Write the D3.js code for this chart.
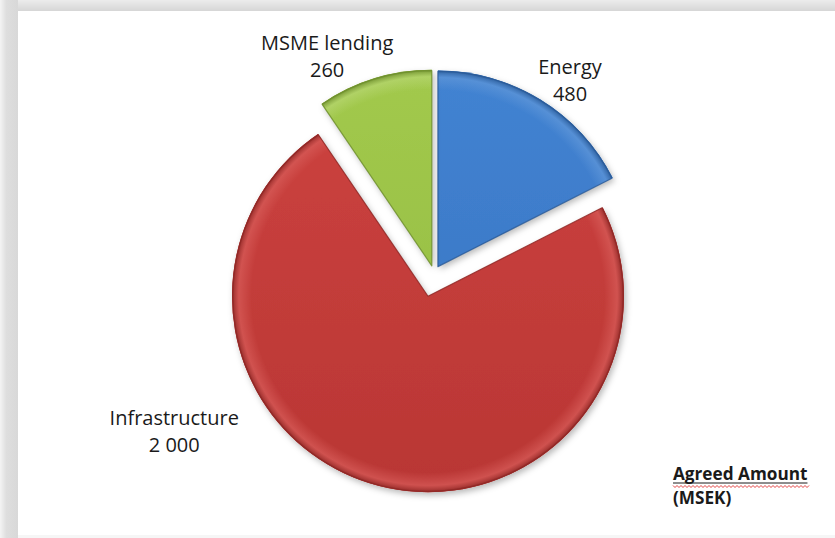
<!DOCTYPE html>
<html>
<head>
<meta charset="utf-8">
<script src="https://cdn.jsdelivr.net/npm/d3@7"></script>
<style>
  html, body { margin: 0; padding: 0; background: #ffffff; }
  svg { display: block; }
</style>
</head>
<body>
<svg id="chart" width="835" height="538"></svg>
<script>
// Agreed amounts per sector (MSEK)
const categories = ["Energy", "Infrastructure", "MSME lending"];
const values = [480, 2000, 260];
const valueLabels = ["480", "2 000", "260"];
const legendLines = ["Agreed Amount", "(MSEK)"];

// Presentation settings
const colors = {
  "Energy": { top: "#4283d2", bottom: "#3873c0", rim: "#5d95d8", edge: "#2a5b98" },
  "Infrastructure": { top: "#cc423f", bottom: "#b93634", rim: "#d65a57", edge: "#8f2826" },
  "MSME lending": { top: "#a2c94d", bottom: "#93bb40", rim: "#b5d56e", edge: "#6f8f2e" }
};
const explode = { "Energy": 7.5, "Infrastructure": 24, "MSME lending": 7.5 };
// label anchor: angle (deg, clockwise from 12 o'clock) and distance from pie centre
const labelPlace = {
  "Energy": { angle: 35.2, dist: 236 },
  "Infrastructure": { angle: 238.7, dist: 304 },
  "MSME lending": { angle: 333.8, dist: 242 }
};

const W = 835, H = 538;
const cx = 434, cy = 273, radius = 196;
const svg = d3.select("#chart");
const defs = svg.append("defs");

// Frame: grey border band around the white chart area
const bgTop = defs.append("linearGradient").attr("id", "bgTop").attr("x1", 0).attr("y1", 0).attr("x2", 0).attr("y2", 1);
bgTop.append("stop").attr("offset", "0%").attr("stop-color", "#ececec");
bgTop.append("stop").attr("offset", "100%").attr("stop-color", "#d6d6d6");
const bgLeft = defs.append("linearGradient").attr("id", "bgLeft").attr("x1", 0).attr("y1", 0).attr("x2", 1).attr("y2", 0);
bgLeft.append("stop").attr("offset", "0%").attr("stop-color", "#f4f4f4");
bgLeft.append("stop").attr("offset", "35%").attr("stop-color", "#dedede");
bgLeft.append("stop").attr("offset", "100%").attr("stop-color", "#d8d8d8");

svg.append("rect").attr("x", 0).attr("y", 0).attr("width", W).attr("height", 11).attr("fill", "url(#bgTop)");
svg.append("rect").attr("x", 0).attr("y", 0).attr("width", 18).attr("height", H).attr("fill", "url(#bgLeft)");
svg.append("rect").attr("x", 18).attr("y", 11).attr("width", W - 18).attr("height", H - 14).attr("fill", "#ffffff");
svg.append("rect").attr("x", 18).attr("y", H - 3).attr("width", W - 18).attr("height", 3).attr("fill", "#f6f6f6");

// Soft shadow under the slices
const shadow = defs.append("filter").attr("id", "sliceShadow")
  .attr("x", "-20%").attr("y", "-20%").attr("width", "140%").attr("height", "140%");
shadow.append("feDropShadow").attr("dx", 2).attr("dy", 3).attr("stdDeviation", 3)
  .attr("flood-color", "#000").attr("flood-opacity", 0.28);

// Per-slice shading: vertical body gradient plus a bevelled rim
categories.forEach((c, i) => {
  const body = defs.append("linearGradient").attr("id", "body" + i)
    .attr("gradientUnits", "userSpaceOnUse").attr("x1", 0).attr("y1", -radius).attr("x2", 0).attr("y2", radius);
  body.append("stop").attr("offset", "0%").attr("stop-color", colors[c].top);
  body.append("stop").attr("offset", "100%").attr("stop-color", colors[c].bottom);
  const rim = defs.append("radialGradient").attr("id", "rim" + i)
    .attr("gradientUnits", "userSpaceOnUse").attr("cx", 0).attr("cy", 0).attr("r", radius)
    .attr("fx", 0).attr("fy", 0);
  rim.append("stop").attr("offset", "0%").attr("stop-color", colors[c].rim).attr("stop-opacity", 0);
  rim.append("stop").attr("offset", "90%").attr("stop-color", colors[c].rim).attr("stop-opacity", 0);
  rim.append("stop").attr("offset", "96.5%").attr("stop-color", colors[c].rim).attr("stop-opacity", 0.75);
  rim.append("stop").attr("offset", "100%").attr("stop-color", colors[c].edge).attr("stop-opacity", 0.9);
});

const pie = d3.pie().sort(null).value(d => d.value);
const data = categories.map((c, i) => ({ name: c, value: values[i], label: valueLabels[i], idx: i }));
const arcs = pie(data);
const arc = d3.arc().innerRadius(0).outerRadius(radius);

const root = svg.append("g").attr("transform", `translate(${cx},${cy})`);

const slices = root.selectAll("g.slice").data(arcs).enter().append("g")
  .attr("class", "slice")
  .attr("transform", d => {
    const mid = (d.startAngle + d.endAngle) / 2;
    const e = explode[d.data.name];
    return `translate(${Math.sin(mid) * e},${-Math.cos(mid) * e})`;
  });

slices.append("path")
  .attr("d", arc)
  .attr("fill", d => `url(#body${d.data.idx})`)
  .attr("filter", "url(#sliceShadow)");
slices.append("path")
  .attr("d", arc)
  .attr("fill", d => `url(#rim${d.data.idx})`);
slices.append("path")
  .attr("d", d3.arc().innerRadius(0).outerRadius(radius - 0.8))
  .attr("fill", "none")
  .attr("stroke", d => colors[d.data.name].edge)
  .attr("stroke-width", 1.2)
  .attr("stroke-opacity", 0.85)
  .attr("stroke-linejoin", "round");

// Category and value labels
const fontFam = "'Open Sans', 'Noto Sans', sans-serif";
const labels = root.selectAll("text.lbl").data(arcs).enter().append("text")
  .attr("class", "lbl")
  .attr("font-family", fontFam)
  .attr("font-size", 20)
  .attr("fill", "#1a1a1a")
  .attr("text-anchor", "middle")
  .attr("transform", d => {
    const p = labelPlace[d.data.name];
    const a = p.angle * Math.PI / 180;
    return `translate(${Math.sin(a) * p.dist},${-Math.cos(a) * p.dist})`;
  });
labels.append("tspan").attr("x", 0).attr("y", -6).text(d => d.data.name);
labels.append("tspan").attr("x", 0).attr("y", 21).text(d => d.data.label);

// Legend note with underline and spell-check squiggle
const note = svg.append("g").attr("transform", "translate(673,0)");
const t1 = note.append("text").attr("x", 0).attr("y", 480)
  .attr("font-family", fontFam).attr("font-weight", 700).attr("font-size", 17.2)
  .attr("fill", "#1a1a1a").text(legendLines[0]);
note.append("text").attr("x", 0).attr("y", 504)
  .attr("font-family", fontFam).attr("font-weight", 700).attr("font-size", 17.2)
  .attr("fill", "#1a1a1a").text(legendLines[1]);
const w1 = t1.node().getComputedTextLength();
note.append("line").attr("x1", 0).attr("x2", w1).attr("y1", 483).attr("y2", 483)
  .attr("stroke", "#1a1a1a").attr("stroke-width", 1);
const squiggle = d3.path();
squiggle.moveTo(0, 485.5);
for (let x = 0, k = 0; x < w1; x += 2, k++) squiggle.lineTo(x + 2, k % 2 === 0 ? 487.5 : 485.5);
note.append("path").attr("d", squiggle.toString()).attr("fill", "none")
  .attr("stroke", "#e03030").attr("stroke-width", 0.9);
</script>
</body>
</html>
